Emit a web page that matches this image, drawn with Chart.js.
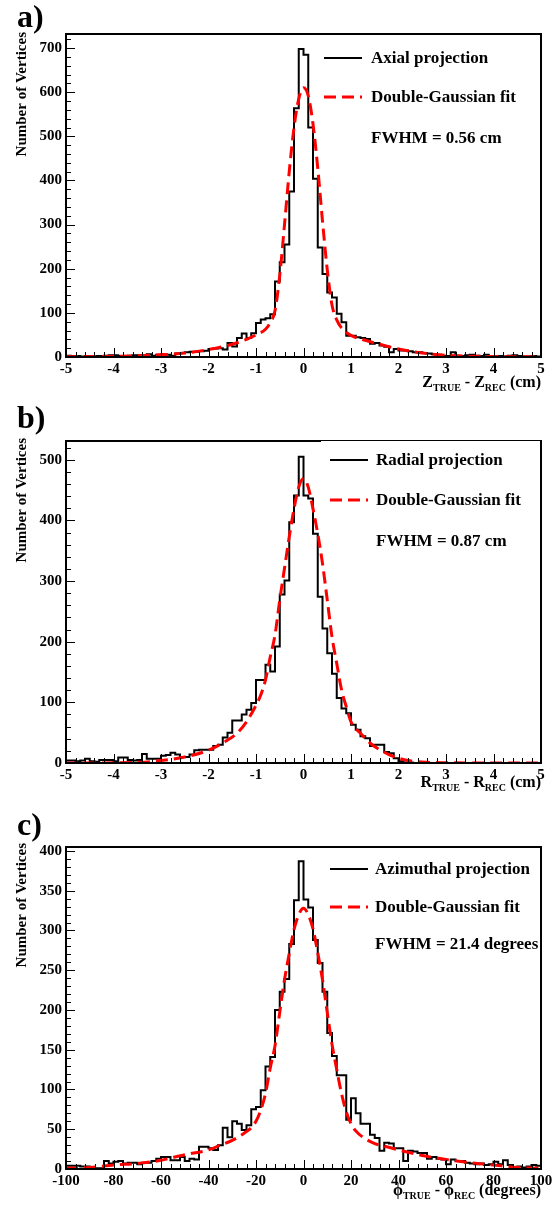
<!DOCTYPE html>
<html>
<head>
<meta charset="utf-8">
<title>Vertex resolution</title>
<script src="https://cdn.jsdelivr.net/npm/chart.js@4.4.1/dist/chart.umd.min.js"></script>
<style>
  body { margin: 0; background: #fff; }
  canvas { display: block; }
</style>
</head>
<body>
<canvas id="chartA" width="553" height="400"></canvas>
<canvas id="chartB" width="553" height="400"></canvas>
<canvas id="chartC" width="553" height="410"></canvas>
<script>
const SERIF = "'Liberation Serif', 'Times New Roman', Times, serif";

// a) axial projection, 100 bins of 0.1 cm from -5 to 5
const axialCounts = [
  3, 2, 2, 1, 2, 2, 2, 2, 3, 4,
  4, 2, 2, 3, 4, 4, 3, 6, 3, 5,
  6, 5, 3, 8, 9, 11, 12, 12, 13, 14,
  18, 19, 20, 17, 32, 24, 43, 53, 43, 54,
  77, 85, 88, 97, 171, 215, 255, 375, 564, 698,
  685, 520, 404, 248, 188, 146, 135, 98, 79, 48,
  48, 45, 43, 41, 30, 32, 26, 23, 11, 18,
  15, 15, 13, 11, 11, 9, 8, 6, 5, 3,
  2, 11, 3, 2, 4, 5, 3, 2, 5, 2,
  1, 2, 1, 3, 4, 2, 1, 1, 2, 1
];
const axialFitX = [-5, -4, -3, -2.5, -2, -1.5, -1.2, -1, -0.8, -0.7, -0.6, -0.5, -0.4, -0.3, -0.2, -0.1, 0,
  0.1, 0.2, 0.3, 0.4, 0.5, 0.6, 0.7, 0.8, 1, 1.2, 1.5, 2, 2.5, 3, 4, 5];
const axialFitY = [0.5, 1.5, 5, 9, 17, 29, 40, 50, 63, 78, 105, 185, 300, 420, 520, 585, 610,
  592, 528, 428, 308, 198, 118, 84, 66, 49, 41, 32, 18, 9, 4, 1, 0.3];

// b) radial projection, 100 bins of 0.1 cm from -5 to 5
const radialCounts = [
  4, 4, 3, 4, 7, 3, 2, 5, 5, 5,
  3, 9, 9, 5, 4, 5, 15, 7, 7, 7,
  12, 13, 17, 14, 10, 10, 14, 21, 22, 22,
  22, 28, 30, 42, 50, 70, 70, 80, 88, 99,
  137, 137, 162, 151, 192, 278, 301, 397, 441, 505,
  441, 436, 378, 274, 222, 181, 147, 107, 90, 82,
  63, 55, 44, 41, 28, 30, 30, 18, 16, 8,
  3, 1, 1, 0, 0, 0, 0, 0, 0, 0,
  0, 0, 0, 0, 0, 0, 0, 0, 0, 0,
  0, 0, 0, 0, 0, 0, 0, 0, 0, 0
];
const radialFitX = [-5, -4, -3.5, -3, -2.5, -2, -1.7, -1.4, -1.2, -1, -0.9, -0.8, -0.7, -0.6, -0.5, -0.4, -0.3, -0.2, -0.1, 0,
  0.1, 0.2, 0.3, 0.4, 0.5, 0.6, 0.7, 0.8, 0.9, 1, 1.2, 1.4, 1.6, 1.8, 2, 2.2, 2.5, 3, 4, 5];
const radialFitY = [0.1, 0.3, 1, 4, 10, 21, 33, 49, 68, 95, 112, 137, 175, 211, 269, 321, 373, 419, 455, 469,
  455, 419, 378, 329, 269, 208, 164, 121, 93, 68, 49, 33, 22, 14, 8, 4, 1.5, 0.5, 0, 0];

// c) azimuthal projection, 100 bins of 2 degrees from -100 to 100
const azimuthalCounts = [
  4, 4, 4, 3, 3, 2, 1, 1, 10, 7,
  9, 10, 7, 8, 8, 6, 8, 8, 10, 13,
  15, 15, 11, 11, 15, 10, 13, 12, 28, 28,
  26, 24, 30, 52, 40, 60, 57, 49, 55, 75,
  78, 99, 129, 141, 200, 223, 239, 283, 338, 387,
  339, 329, 288, 259, 223, 171, 142, 118, 118, 62,
  89, 70, 57, 57, 43, 39, 23, 33, 32, 26,
  26, 10, 23, 22, 20, 20, 13, 15, 13, 12,
  6, 12, 10, 10, 8, 7, 6, 7, 5, 6,
  9, 6, 11, 5, 2, 3, 2, 3, 5, 4
];
const azimuthalFitX = [-100, -90, -80, -70, -60, -50, -40, -35, -30, -25, -22, -20, -18, -16, -14, -12, -10, -8, -6, -4, -2, 0,
  2, 4, 6, 8, 10, 12, 14, 16, 18, 20, 22, 25, 30, 35, 40, 50, 60, 70, 80, 90, 100];
const azimuthalFitY = [1, 2, 5, 7, 11, 18, 24, 30, 36, 45, 52, 60, 74, 95, 127, 155, 197, 238, 271, 301, 320, 328,
  320, 302, 272, 238, 197, 157, 125, 95, 72, 57, 48, 40, 32, 28, 24, 17, 12, 8, 5, 2, 1];

const panels = [
  {
    id: "chartA", letter: "a)", letterY: 27,
    counts: axialCounts, fitX: axialFitX, fitY: axialFitY,
    xMin: -5, xMax: 5, binW: 0.1, xStep: 1, xMinor: 0.2,
    yMax: 732, yStep: 100, yMinor: 20,
    top: 34, xHeight: 43, topBreak: null,
    name: "Axial projection", fwhm: "FWHM = 0.56 cm",
    legLine: [324, 362], legText: 371, leg1: 58, leg2: 97, legF: 143,
    xTitle: [["Z", 0], ["TRUE", 1], [" - Z", 0], ["REC", 1], [" (cm)", 0]], xTitleY: 387,
    yTitleTop: 32
  },
  {
    id: "chartB", letter: "b)", letterY: 28,
    counts: radialCounts, fitX: radialFitX, fitY: radialFitY,
    xMin: -5, xMax: 5, binW: 0.1, xStep: 1, xMinor: 0.2,
    yMax: 531, yStep: 100, yMinor: 20,
    top: 41, xHeight: 37, topBreak: 321,
    name: "Radial projection", fwhm: "FWHM = 0.87 cm",
    legLine: [330, 368], legText: 376, leg1: 60, leg2: 100, legF: 146,
    xTitle: [["R", 0], ["TRUE", 1], [" - R", 0], ["REC", 1], [" (cm)", 0]], xTitleY: 387,
    yTitleTop: 38
  },
  {
    id: "chartC", letter: "c)", letterY: 35,
    counts: azimuthalCounts, fitX: azimuthalFitX, fitY: azimuthalFitY,
    xMin: -100, xMax: 100, binW: 2, xStep: 20, xMinor: 4,
    yMax: 405, yStep: 50, yMinor: 10,
    top: 47, xHeight: 41, topBreak: null,
    name: "Azimuthal projection", fwhm: "FWHM = 21.4 degrees",
    legLine: [330, 368], legText: 375, leg1: 69, leg2: 107, legF: 149,
    xTitle: [["\u03D5", 0], ["TRUE", 1], [" - \u03D5", 0], ["REC", 1], [" (degrees)", 0]], xTitleY: 395,
    yTitleTop: 43
  }
];

function histPoints(xmin, width, counts) {
  const pts = counts.map((c, k) => ({ x: xmin + k * width, y: c }));
  pts.push({ x: xmin + counts.length * width, y: counts[counts.length - 1] });
  return pts;
}

function rootStyle(p) {
  return {
    id: "rootStyle",
    afterDraw(chart) {
      const ctx = chart.ctx;
      const a = chart.chartArea;
      const sx = chart.scales.x, sy = chart.scales.y;
      ctx.save();
      ctx.strokeStyle = "#000";
      ctx.fillStyle = "#000";

      // inner tick marks
      ctx.lineWidth = 1;
      ctx.beginPath();
      const nx = Math.round((p.xMax - p.xMin) / p.xMinor);
      const xEvery = Math.round(p.xStep / p.xMinor);
      for (let i = 0; i <= nx; i++) {
        const px = Math.round(sx.getPixelForValue(p.xMin + i * p.xMinor)) + 0.5;
        const len = i % xEvery === 0 ? 9 : 5;
        ctx.moveTo(px, a.bottom);
        ctx.lineTo(px, a.bottom - len);
      }
      const ny = Math.floor(p.yMax / p.yMinor);
      const yEvery = Math.round(p.yStep / p.yMinor);
      for (let i = 0; i <= ny; i++) {
        const py = Math.round(sy.getPixelForValue(i * p.yMinor)) + 0.5;
        const len = i % yEvery === 0 ? 9 : 5;
        ctx.moveTo(a.left, py);
        ctx.lineTo(a.left + len, py);
      }
      ctx.stroke();

      // frame
      ctx.lineWidth = 2;
      ctx.strokeRect(a.left, a.top, a.right - a.left, a.bottom - a.top);
      if (p.topBreak) {
        ctx.fillStyle = "#fff";
        ctx.fillRect(p.topBreak, a.top - 1.5, a.right - p.topBreak - 1, 3);
        ctx.fillStyle = "#000";
        ctx.lineWidth = 1;
        ctx.beginPath();
        ctx.moveTo(p.topBreak, a.top - 0.5);
        ctx.lineTo(a.right, a.top - 0.5);
        ctx.stroke();
      }

      // panel letter
      ctx.font = `bold 32px ${SERIF}`;
      ctx.textAlign = "left";
      ctx.textBaseline = "alphabetic";
      ctx.fillText(p.letter, 17, p.letterY);

      // y title
      ctx.save();
      ctx.translate(26, p.yTitleTop);
      ctx.rotate(-Math.PI / 2);
      ctx.font = `bold 15px ${SERIF}`;
      ctx.textAlign = "right";
      ctx.fillText("Number of Vertices", 0, 0);
      ctx.restore();

      // x title with subscripts
      const mainFont = `bold 16px ${SERIF}`;
      const subFont = `bold 10px ${SERIF}`;
      let total = 0;
      p.xTitle.forEach(([t, sub]) => {
        ctx.font = sub ? subFont : mainFont;
        total += ctx.measureText(t).width;
      });
      let x = a.right - total;
      p.xTitle.forEach(([t, sub]) => {
        ctx.font = sub ? subFont : mainFont;
        ctx.fillText(t, x, p.xTitleY + (sub ? 4 : 0));
        x += ctx.measureText(t).width;
      });

      // legend
      ctx.font = `bold 17px ${SERIF}`;
      ctx.lineWidth = 2;
      ctx.beginPath();
      ctx.moveTo(p.legLine[0], p.leg1);
      ctx.lineTo(p.legLine[1], p.leg1);
      ctx.stroke();
      ctx.fillText(p.name, p.legText, p.leg1 + 5);
      ctx.strokeStyle = "#ff0000";
      ctx.lineWidth = 3;
      ctx.setLineDash([12, 6]);
      ctx.beginPath();
      ctx.moveTo(p.legLine[0], p.leg2);
      ctx.lineTo(p.legLine[1], p.leg2);
      ctx.stroke();
      ctx.setLineDash([]);
      ctx.fillText("Double-Gaussian fit", p.legText, p.leg2 + 5);
      ctx.fillText(p.fwhm, p.legText, p.legF);
      ctx.restore();
    }
  };
}

panels.forEach(p => {
  const canvas = document.getElementById(p.id);
  new Chart(canvas, {
    type: "line",
    data: {
      datasets: [
        {
          label: "Double-Gaussian fit",
          data: p.fitX.map((x, i) => ({ x: x, y: p.fitY[i] })),
          borderColor: "#ff0000",
          borderWidth: 3,
          borderDash: [12, 6],
          pointRadius: 0,
          cubicInterpolationMode: "monotone",
          fill: false,
          order: 0
        },
        {
          label: p.name,
          data: histPoints(p.xMin, p.binW, p.counts),
          borderColor: "#000",
          borderWidth: 2,
          pointRadius: 0,
          stepped: "before",
          fill: false,
          order: 1
        }
      ]
    },
    options: {
      responsive: false,
      animation: false,
      events: [],
      layout: { padding: { top: p.top, right: 12, left: 0, bottom: 0 } },
      plugins: { legend: { display: false }, tooltip: { enabled: false } },
      scales: {
        x: {
          type: "linear",
          min: p.xMin,
          max: p.xMax,
          grid: { display: false, drawTicks: false },
          border: { display: false },
          ticks: {
            stepSize: p.xStep,
            color: "#000",
            padding: 3,
            maxRotation: 0,
            autoSkip: false,
            includeBounds: false,
            font: { family: SERIF, weight: "bold", size: 15 }
          },
          afterFit(s) {
            s.height = p.xHeight;
            s.paddingLeft = 0;
            s.paddingRight = 0;
          }
        },
        y: {
          min: 0,
          max: p.yMax,
          grid: { display: false, drawTicks: false },
          border: { display: false },
          ticks: {
            stepSize: p.yStep,
            color: "#000",
            padding: 4,
            includeBounds: false,
            font: { family: SERIF, weight: "bold", size: 15 }
          },
          afterFit(s) {
            s.width = 66;
            s.paddingTop = 0;
            s.paddingBottom = 0;
          }
        }
      }
    },
    plugins: [rootStyle(p)]
  });
});
</script>
</body>
</html>
